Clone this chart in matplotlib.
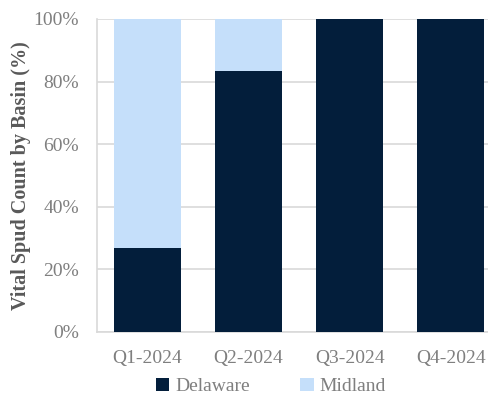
import matplotlib.pyplot as plt
from matplotlib.ticker import FuncFormatter

# data
quarters = ['Q1-2024', 'Q2-2024', 'Q3-2024', 'Q4-2024']
delaware = [26.7, 83.3, 100.0, 100.0]
midland = [73.3, 16.7, 0.0, 0.0]

navy = '#031e3b'
light = '#c5dffa'
grey = '#7f7f7f'

plt.rcParams['font.family'] = ['Liberation Serif', 'DejaVu Serif']

fig = plt.figure(figsize=(4.88, 3.95), dpi=100)
ax = fig.add_axes([0.199, 0.1595, 0.801, 0.7925])

x = range(len(quarters))
ax.bar(x, delaware, width=0.66, color=navy, label='Delaware', zorder=3)
ax.bar(x, midland, width=0.66, bottom=delaware, color=light, label='Midland', zorder=3)

ax.set_xlim(-0.5, 3.37)
ax.set_ylim(0, 100)
ax.set_yticks(range(0, 101, 20))
ax.yaxis.set_major_formatter(FuncFormatter(lambda v, p: '%d%%' % v))
ax.set_xticks(list(x))
ax.set_xticklabels(quarters)
ax.tick_params(axis='both', length=0, labelsize=14, labelcolor=grey)
ax.tick_params(axis='x', pad=13)
ax.tick_params(axis='y', pad=13)

ax.grid(axis='y', color='#d9d9d9', linewidth=1.2, zorder=0)
for s in ['top', 'right']:
    ax.spines[s].set_visible(False)
ax.spines['left'].set_color('#d9d9d9')
ax.spines['bottom'].set_color('#d9d9d9')
ax.spines['left'].set_linewidth(1.2)
ax.spines['bottom'].set_linewidth(1.2)

ax.set_ylabel('Vital Spud Count by Basin (%)', fontsize=14.5, fontweight='bold',
              color='#595959', labelpad=2)

fig.legend(loc='lower center', bbox_to_anchor=(0.555, -0.045), ncol=2, frameon=False,
           fontsize=14, labelcolor=grey, handlelength=0.7, handleheight=0.7,
           handletextpad=0.3, columnspacing=2.6)

fig.savefig('out.png', dpi=100)
